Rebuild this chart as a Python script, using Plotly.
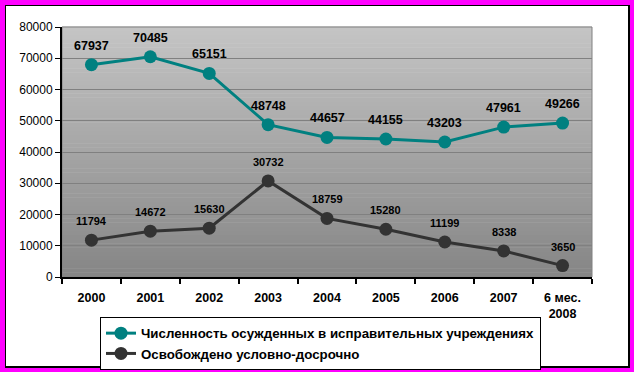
import plotly.graph_objects as go

categories = ["2000", "2001", "2002", "2003", "2004", "2005", "2006", "2007", "6 мес.<br>2008"]
convicted = [67937, 70485, 65151, 48748, 44657, 44155, 43203, 47961, 49266]
parole = [11794, 14672, 15630, 30732, 18759, 15280, 11199, 8338, 3650]
name_convicted = "Численность осужденных в исправительных учреждениях"
name_parole = "Освобождено условно-досрочно"

FONT = "Liberation Sans, Arial, sans-serif"
TEAL = "#008080"
DARK = "#333333"

# layout geometry (pixels)
WIDTH, HEIGHT = 634, 372
L, T, R, B = 62, 27, 42, 95
PW = WIDTH - L - R
PH = HEIGHT - T - B


def px2x(px):
    return (px - L) / PW


def py2y(py):
    return (HEIGHT - B - py) / PH


fig = go.Figure()

fig.add_trace(go.Scatter(
    x=categories, y=convicted, name=name_convicted, mode="lines+markers",
    line=dict(color=TEAL, width=3), marker=dict(color=TEAL, size=13),
))
fig.add_trace(go.Scatter(
    x=categories, y=parole, name=name_parole, mode="lines+markers",
    line=dict(color=DARK, width=3), marker=dict(color=DARK, size=13),
))

annotations = []
for i, v in enumerate(convicted):
    annotations.append(dict(x=i, y=v, xref="x", yref="y", text=str(v), showarrow=False,
                            yshift=19, font=dict(family=FONT, size=12.5, color="black", weight="bold")))
for i, v in enumerate(parole):
    annotations.append(dict(x=i, y=v, xref="x", yref="y", text=str(v), showarrow=False,
                            yshift=19, font=dict(family=FONT, size=11, color="black", weight="bold")))

shapes = []
# outer frame: black border with white interior
shapes.append(dict(type="rect", xref="paper", yref="paper", layer="below",
                   x0=px2x(5), x1=px2x(630), y0=py2y(368), y1=py2y(5),
                   fillcolor="black", line=dict(width=0)))
shapes.append(dict(type="rect", xref="paper", yref="paper", layer="below",
                   x0=px2x(6), x1=px2x(628), y0=py2y(366), y1=py2y(6),
                   fillcolor="white", line=dict(width=0)))
# plot area gradient
N = 60
top = (196, 196, 196)
bot = (134, 134, 134)
for i in range(N):
    f = i / (N - 1)
    col = tuple(round(bot[k] + (top[k] - bot[k]) * f) for k in range(3))
    shapes.append(dict(type="rect", xref="x domain", yref="y domain", layer="below",
                       x0=0, x1=1, y0=i / N, y1=(i + 1) / N + 0.002,
                       fillcolor="rgb(%d,%d,%d)" % col, line=dict(width=0)))
shapes.append(dict(type="rect", xref="x domain", yref="y domain", layer="below",
                   x0=0, x1=1, y0=0, y1=1, fillcolor="rgba(0,0,0,0)",
                   line=dict(color="#808080", width=1)))

fig.update_layout(
    width=WIDTH, height=HEIGHT,
    margin=dict(l=L, r=R, t=T, b=B, autoexpand=False),
    paper_bgcolor="#ff00ff",
    plot_bgcolor="rgba(0,0,0,0)",
    font=dict(family=FONT, color="black", size=12),
    shapes=shapes,
    annotations=annotations,
    showlegend=True,
    legend=dict(
        x=px2x(100), y=py2y(317), xanchor="left", yanchor="top",
        bgcolor="white", bordercolor="black", borderwidth=1,
        font=dict(family=FONT, size=13.3, color="black", weight="bold"),
        tracegroupgap=0,
    ),
    xaxis=dict(
        type="category", categoryorder="array", categoryarray=categories,
        range=[-0.5, len(categories) - 0.5],
        tickson="boundaries", ticks="outside", ticklen=5, tickwidth=2, tickcolor="black",
        ticklabelstandoff=8,
        showline=True, linecolor="black", linewidth=2, showgrid=False,
        tickfont=dict(family=FONT, size=12.5, color="black", weight="bold"),
        fixedrange=True, automargin=False,
    ),
    yaxis=dict(
        range=[0, 80000], dtick=10000, tickformat="d",
        ticks="outside", ticklen=5, tickwidth=1, tickcolor="black",
        showline=True, linecolor="black", linewidth=2,
        showgrid=True, gridcolor="#808080", gridwidth=1, zeroline=False,
        tickfont=dict(family=FONT, size=12, color="black"),
        fixedrange=True, automargin=False,
    ),
)

fig.write_html(
    "out.html",
    config={"displayModeBar": False},
    post_script="document.body.style.margin='0';document.body.style.overflow='hidden';",
)
